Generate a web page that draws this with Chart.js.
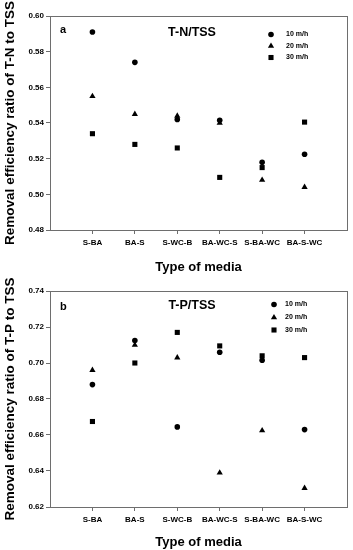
<!DOCTYPE html>
<html>
<head>
<meta charset="utf-8">
<script src="https://cdn.jsdelivr.net/npm/chart.js@4.4.0/dist/chart.umd.min.js"></script>
<style>
html, body { margin: 0; padding: 0; background: #fff; }
.box { position: relative; width: 353px; height: 275px; }
</style>
</head>
<body>
<div class="box"><canvas id="chartA"></canvas></div>
<div class="box"><canvas id="chartB"></canvas></div>
<script>
'use strict';

let media = ['S-BA', 'BA-S', 'S-WC-B', 'BA-WC-S', 'S-BA-WC', 'BA-S-WC'];
let speeds = ['10 m/h', '20 m/h', '30 m/h'];

// panel a : T-N / TSS
let tn10 = [0.591, 0.574, 0.542, 0.5415, 0.518, 0.5225];
let tn20 = [0.555, 0.545, 0.544, 0.540, 0.508, 0.504];
let tn30 = [0.534, 0.528, 0.526, 0.5095, 0.515, 0.5405];
let tnTicks = [0.48, 0.50, 0.52, 0.54, 0.56, 0.58, 0.60];

// panel b : T-P / TSS
let tp10 = [0.688, 0.7125, 0.6645, 0.706, 0.7015, 0.663];
let tp20 = [0.696, 0.710, 0.703, 0.639, 0.6625, 0.6305];
let tp30 = [0.6675, 0.700, 0.717, 0.7095, 0.704, 0.703];
let tpTicks = [0.62, 0.64, 0.66, 0.68, 0.70, 0.72, 0.74];

let font = "'Liberation Sans', Arial, sans-serif";
let axisGray = '#6e6e6e';
let styles = ['circle', 'triangle', 'rect'];
let radii = [2.8, 3.6, 3.6];

function toPoints(vals) {
  return vals.map((v, i) => ({ x: i + 1, y: v }));
}

let panelText = {
  id: 'panelText',
  afterDraw(chart, args, opts) {
    let ctx = chart.ctx;
    let a = chart.chartArea;
    ctx.save();
    // frame
    ctx.strokeStyle = axisGray;
    ctx.lineWidth = 1;
    ctx.strokeRect(Math.round(a.left) + 0.5, Math.round(a.top) + 0.5,
      Math.round(a.right - a.left), Math.round(a.bottom - a.top));

    ctx.fillStyle = '#000';
    ctx.textBaseline = 'middle';
    ctx.font = 'bold 11px ' + font;
    ctx.textAlign = 'left';
    ctx.fillText(opts.letter, 60, opts.letterY);

    ctx.font = 'bold 12.5px ' + font;
    ctx.textAlign = 'center';
    ctx.fillText(opts.title, 192, opts.titleY);

    // legend
    ctx.font = 'bold 7px ' + font;
    ctx.textAlign = 'left';
    chart.data.datasets.forEach((ds, i) => {
      let y = opts.legendY[i];
      Chart.helpers.drawPoint(ctx, {
        pointStyle: ds.pointStyle, radius: ds.pointRadius, rotation: 0, borderWidth: 0
      }, opts.markX, y);
      ctx.fillStyle = '#000';
      ctx.fillText(ds.label, opts.textX, y);
    });
    ctx.restore();
  }
};

function makeChart(id, series, yTicks, yTitle, cfg) {
  let ctx = document.getElementById(id).getContext('2d');
  return new Chart(ctx, {
    type: 'scatter',
    data: {
      datasets: series.map((vals, i) => ({
        label: speeds[i],
        data: toPoints(vals),
        pointStyle: styles[i],
        pointRadius: radii[i],
        pointHoverRadius: radii[i],
        backgroundColor: '#000',
        borderColor: '#000',
        borderWidth: 0
      }))
    },
    options: {
      responsive: true,
      maintainAspectRatio: false,
      animation: false,
      events: [],
      layout: { padding: { top: cfg.top, right: 6, left: 0, bottom: 0 } },
      plugins: {
        legend: { display: false },
        tooltip: { enabled: false },
        panelText: cfg.text
      },
      scales: {
        x: {
          type: 'linear',
          min: 0,
          max: 7,
          afterBuildTicks: (scale) => {
            scale.ticks = media.map((m, i) => ({ value: i + 1 }));
          },
          afterFit: (scale) => { scale.height = cfg.xHeight; },
          ticks: {
            color: '#000',
            padding: 4,
            maxRotation: 0,
            autoSkip: false,
            font: { family: font, size: 8, weight: 'bold' },
            callback: (v) => media[v - 1]
          },
          grid: { drawOnChartArea: false, tickLength: 4, color: axisGray },
          border: { display: false },
          title: {
            display: true,
            text: 'Type of media',
            color: '#000',
            font: { family: font, size: 13, weight: 'bold' },
            padding: { top: cfg.xTitlePad, bottom: 0 }
          }
        },
        y: {
          min: yTicks[0],
          max: yTicks[yTicks.length - 1],
          afterBuildTicks: (scale) => {
            scale.ticks = yTicks.map((v) => ({ value: v }));
          },
          afterFit: (scale) => { scale.width = 50; },
          ticks: {
            color: '#000',
            padding: 2,
            font: { family: font, size: 8, weight: 'bold' },
            callback: (v) => v.toFixed(2)
          },
          grid: { drawOnChartArea: false, tickLength: 4, color: axisGray },
          border: { display: false },
          title: {
            display: true,
            text: yTitle,
            color: '#000',
            font: { family: font, size: 13.5, weight: 'bold' },
            padding: { top: 2, bottom: 0 }
          }
        }
      }
    },
    plugins: [panelText]
  });
}

makeChart('chartA', [tn10, tn20, tn30], tnTicks, 'Removal efficiency ratio of T-N to TSS', {
  top: 16, xHeight: 45, xTitlePad: 5,
  text: { letter: 'a', letterY: 29.5, title: 'T-N/TSS', titleY: 33,
    legendY: [34.5, 46, 57.5], markX: 271, textX: 286 }
});

makeChart('chartB', [tp10, tp20, tp30], tpTicks, 'Removal efficiency ratio of T-P to TSS', {
  top: 16, xHeight: 43, xTitlePad: 3,
  text: { letter: 'b', letterY: 32, title: 'T-P/TSS', titleY: 31,
    legendY: [29.5, 42.5, 55], markX: 274, textX: 285 }
});
</script>
</body>
</html>
